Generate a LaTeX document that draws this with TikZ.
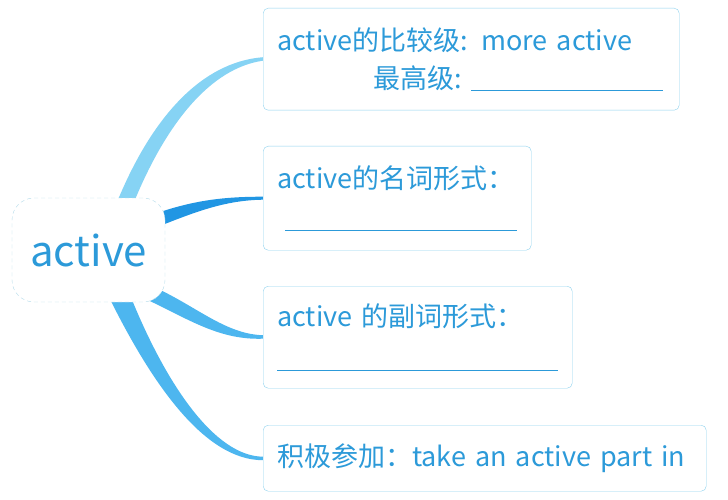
\documentclass[tikz,border=0pt]{standalone}
\usepackage{fontspec}
\setmainfont{Noto Sans CJK SC}
\usepackage{xcolor}
\usetikzlibrary{positioning,calc,backgrounds}
\definecolor{inkblue}{HTML}{2C9AD9}
\definecolor{panelline}{HTML}{8ED2EE}
\definecolor{coreline}{HTML}{B5DCEA}
\definecolor{twiglight}{HTML}{86D3F4}
\definecolor{twigdeep}{HTML}{2196E3}
\definecolor{twigmid}{HTML}{4DB6EF}
\newcommand{\blank}[1]{\rule[-3pt]{#1}{0.9pt}}

\begin{document}
\begin{tikzpicture}[
    x=1pt, y=-1pt,
    core/.style={rectangle, draw=coreline, dash pattern=on 4pt off 3pt, fill=white,
        minimum width=153pt, minimum height=104pt, rounded corners=22pt,
        text=inkblue, font=\fontsize{42}{42}\selectfont},
    panel/.style={rectangle, draw=panelline, fill=white, rounded corners=5pt,
        anchor=north west, inner xsep=14pt, align=left,
        text=inkblue, font=\fontsize{27}{38}\selectfont}
]
\useasboundingbox (0,0) rectangle (728,500);
\node[core] (core) at (88.5,250) {active};
\node[panel, text width=388pt, minimum height=102pt] (comp) at (263,8) {
    active的比较级: more active\\
    \hspace*{96pt}最高级:\hfill\blank{192pt}\hspace*{2pt}};
\node[panel, text width=240pt, minimum height=104pt] (noun) at (263,146) {
    active的名词形式：\\[1pt]
    \hspace*{8pt}\blank{232pt}};
\node[panel, text width=281pt, minimum height=102pt] (adv) at (263,286) {
    active 的副词形式：\\[3pt]
    \blank{281pt}};
\node[panel, text width=415pt, minimum height=66pt] (part) at (263,425) {
    积极参加：take an active part in};
% tapered branches
\begin{scope}[on background layer]
\fill[twiglight] ($(core.north)+(27,8)$) .. controls +(34.5,-86) and +(-63,5) .. ($(comp.west)+(0,-2)$)
    -- ($(comp.west)+(0,1.5)$) .. controls +(-53,7.5) and +(32.5,-81) .. ($(core.north)+(44,8)$) -- cycle;
\fill[twigdeep] ($(core.east)+(-8,-37)$) .. controls +(38,-13) and +(-38,0) .. ($(noun.west)+(0,-1.5)$)
    -- ($(noun.west)+(0,1.5)$) .. controls +(-38,0.5) and +(38,-15) .. ($(core.east)+(-8,-23)$) -- cycle;
\fill[twigmid] ($(core.south east)+(-13,-16)$) .. controls +(43,19) and +(-38,-1) .. ($(adv.west)+(0,-2)$)
    -- ($(adv.west)+(0,1.5)$) .. controls +(-43,1.5) and +(42,20) .. ($(core.south east)+(-17,-2)$) -- cycle;
\fill[twigmid] ($(core.south)+(20,-6)$) .. controls +(44,89) and +(-58,0) .. ($(part.west)+(0,2)$)
    -- ($(part.west)+(0,-1.5)$) .. controls +(-48,-0.5) and +(36,89) .. ($(core.south)+(42,-6)$) -- cycle;
\end{scope}
\end{tikzpicture}
\end{document}
